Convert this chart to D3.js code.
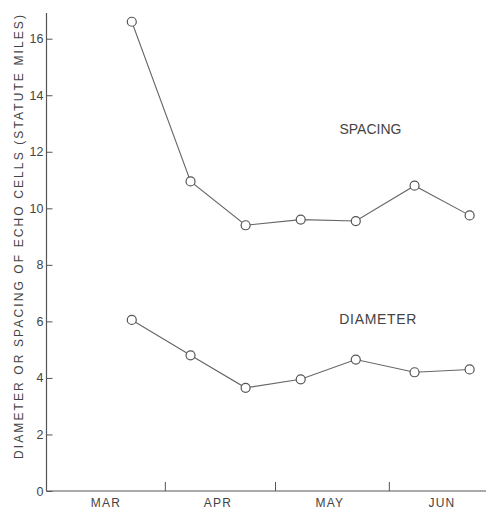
<!DOCTYPE html>
<html>
<head>
<meta charset="utf-8">
<script src="https://cdn.jsdelivr.net/npm/d3@7"></script>
<style>
  html, body { margin: 0; padding: 0; background: #fff; }
  svg { display: block; }
  text { font-family: "Liberation Sans", Arial, sans-serif; fill: #444; }
</style>
</head>
<body>
<svg id="chart" width="486" height="510"></svg>
<script>
// Observation dates (semi-monthly) and mean echo-cell measurements, statute miles
const dates = ["1962-03-23", "1962-04-08", "1962-04-23", "1962-05-08", "1962-05-23", "1962-06-08", "1962-06-23"];
const spacing = [16.6, 10.95, 9.4, 9.6, 9.55, 10.8, 9.75];
const diameter = [6.05, 4.8, 3.65, 3.95, 4.65, 4.2, 4.3];
const monthLabels = ["MAR", "APR", "MAY", "JUN"];
const monthStarts = ["1962-03-01", "1962-04-01", "1962-05-01", "1962-06-01", "1962-07-01"];
const yTicks = [0, 2, 4, 6, 8, 10, 12, 14, 16];

const parse = d3.utcParse("%Y-%m-%d");
const svg = d3.select("#chart");
const ink = "#555";

const x = d3.scaleUtc()
  .domain([parse(monthStarts[0]), parse(monthStarts[4])])
  .range([51, 499]);
const y = d3.scaleLinear().domain([0, 16]).range([491, 38.7]);

// Y axis: ticks point into the plot, labels on the left
const yAxis = svg.append("g")
  .attr("transform", "translate(46.5,0)")
  .call(d3.axisLeft(y).tickValues(yTicks).tickSizeInner(-6).tickSizeOuter(0).tickPadding(3));
yAxis.select(".domain").remove();
yAxis.selectAll(".tick line").attr("stroke", ink).attr("stroke-width", 1);
yAxis.selectAll(".tick text")
  .attr("font-size", 12.5)
  .attr("fill", "#444")
  .attr("font-family", "Liberation Sans, Arial, sans-serif");
svg.append("line")
  .attr("x1", 46.5).attr("x2", 46.5)
  .attr("y1", 13).attr("y2", y(0))
  .attr("stroke", ink).attr("stroke-width", 1.2);

// X axis: month boundaries as short upward ticks, month names centred between them
const xAxis = svg.append("g")
  .attr("transform", `translate(0,${y(0)})`)
  .call(d3.axisBottom(x)
    .tickValues(monthStarts.slice(1, 4).map(parse))
    .tickSizeInner(-9).tickSizeOuter(0).tickFormat(""));
xAxis.select(".domain").remove();
xAxis.selectAll(".tick line").attr("stroke", ink).attr("stroke-width", 1);
svg.append("line")
  .attr("x1", 46.5).attr("x2", 486)
  .attr("y1", y(0)).attr("y2", y(0))
  .attr("stroke", ink).attr("stroke-width", 1.2);

svg.append("g").selectAll("text")
  .data(monthLabels)
  .join("text")
  .attr("x", (d, i) => (x(parse(monthStarts[i])) + x(parse(monthStarts[i + 1]))) / 2 - 2)
  .attr("y", 507)
  .attr("text-anchor", "middle")
  .attr("font-size", 12)
  .attr("letter-spacing", 1.2)
  .text(d => d);

// Y axis title
svg.append("text")
  .attr("transform", "translate(23,237) rotate(-90)")
  .attr("text-anchor", "middle")
  .attr("font-size", 12)
  .attr("textLength", 444)
  .attr("lengthAdjust", "spacing")
  .text("DIAMETER OR SPACING OF ECHO CELLS (STATUTE MILES)");

// Series lines with open circle markers
const line = d3.line()
  .x((d, i) => x(parse(dates[i])))
  .y(d => y(d));

[spacing, diameter].forEach(series => {
  svg.append("path")
    .datum(series)
    .attr("d", line)
    .attr("fill", "none")
    .attr("stroke", "#666")
    .attr("stroke-width", 1.1);
  svg.append("g").selectAll("circle")
    .data(series)
    .join("circle")
    .attr("cx", (d, i) => x(parse(dates[i])))
    .attr("cy", d => y(d))
    .attr("r", 4.5)
    .attr("fill", "#fff")
    .attr("stroke", ink)
    .attr("stroke-width", 1.2);
});

// Series names
svg.append("text")
  .attr("x", x(parse("1962-05-27")))
  .attr("y", y(12.63))
  .attr("text-anchor", "middle")
  .attr("font-size", 14)
  .text("SPACING");
svg.append("text")
  .attr("x", x(parse("1962-05-29")))
  .attr("y", y(5.9))
  .attr("text-anchor", "middle")
  .attr("font-size", 14)
  .attr("textLength", 77)
  .attr("lengthAdjust", "spacing")
  .text("DIAMETER");
</script>
</body>
</html>
